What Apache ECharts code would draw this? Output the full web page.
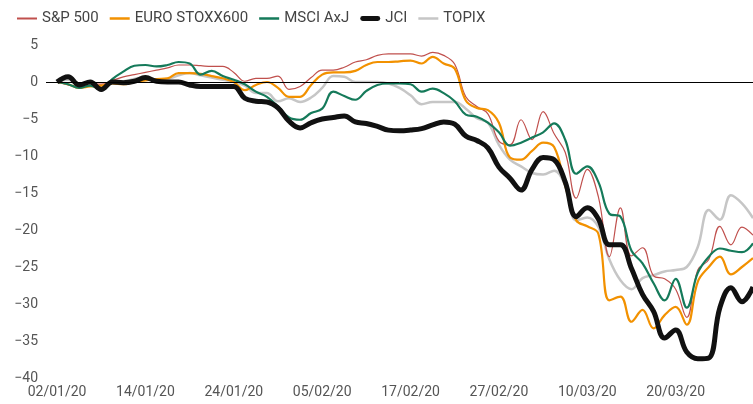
<!DOCTYPE html>
<html>
<head>
<meta charset="utf-8">
<script src="https://cdn.jsdelivr.net/npm/echarts@6/dist/echarts.min.js"></script>
<style>
  html, body { margin: 0; padding: 0; background: #fff; }
  #main { width: 753px; height: 404px; }
</style>
</head>
<body>
<div id="main"></div>
<script>
// trading days, 02/01/20 .. 31/03/20
var dates = [
  '02/01/20','03/01/20','06/01/20','07/01/20','08/01/20','09/01/20','10/01/20','13/01/20',
  '14/01/20','15/01/20','16/01/20','17/01/20','20/01/20','21/01/20','22/01/20','23/01/20',
  '24/01/20','27/01/20','28/01/20','29/01/20','30/01/20','31/01/20','03/02/20','04/02/20',
  '05/02/20','06/02/20','07/02/20','10/02/20','11/02/20','12/02/20','13/02/20','14/02/20',
  '17/02/20','18/02/20','19/02/20','20/02/20','21/02/20','24/02/20','25/02/20','26/02/20',
  '27/02/20','28/02/20','02/03/20','03/03/20','04/03/20','05/03/20','06/03/20','09/03/20',
  '10/03/20','11/03/20','12/03/20','13/03/20','16/03/20','17/03/20','18/03/20','19/03/20',
  '20/03/20','23/03/20','24/03/20','25/03/20','26/03/20','27/03/20','30/03/20','31/03/20'
]

var spx = [0,-0.4,-0.6,-0.2,-0.3,0.2,0.7,1.0,1.3,1.6,1.9,2.3,2.3,2.2,2.1,2.1,
  1.3,0.1,0.5,0.5,0.8,-1.0,-0.6,0.6,1.6,1.6,2.0,2.7,3.0,3.6,3.8,3.8,
  3.8,3.5,4.0,3.6,2.4,-2.0,-3.3,-4.3,-8.0,-8.5,-5.1,-7.8,-4.0,-7.0,-9.5,-15.7,
  -11.8,-15.5,-23.6,-17.0,-23.5,-22.4,-26.2,-26.6,-28.0,-31.8,-25.4,-24.0,-19.5,-22.0,-19.6,-20.7]

var stoxx = [0,-0.3,-0.8,-0.6,-0.5,-0.2,-0.3,0,0.2,0.4,0.5,1.2,1.2,1.1,0.8,0.5,
  0.0,-1.1,-0.4,0.0,-0.8,-2.0,-2.0,-0.4,1.0,1.3,1.3,1.5,2.3,2.7,2.7,2.8,
  2.9,2.5,3.4,2.5,1.8,-2.5,-3.5,-3.8,-5.5,-10.2,-10.5,-9.3,-8.2,-8.8,-14.0,-18.7,
  -19.5,-20.5,-29.5,-29.0,-32.4,-30.8,-33.3,-31.5,-30.4,-32.8,-27.0,-25.0,-23.6,-26.0,-25.0,-23.8]

var msci = [0,-0.3,-0.8,-0.5,-1.0,0.4,1.4,2.2,2.3,2.1,2.3,2.7,2.5,1.0,1.5,0.8,
  0.3,-0.3,-1.3,-2.0,-3.3,-4.8,-5.1,-4.2,-3.6,-1.3,-1.9,-2.4,-1.2,-0.4,-0.2,-0.2,
  -0.3,-1.3,-0.9,-1.5,-2.6,-4.4,-4.7,-5.5,-6.8,-8.6,-8.2,-7.5,-6.8,-5.6,-7.8,-12.4,
  -11.4,-13.5,-17.8,-18.2,-22.8,-24.5,-27.2,-29.5,-26.6,-30.5,-25.8,-23.6,-22.5,-22.8,-23.0,-21.8]

var jci = [0,0.7,-0.4,0,-1.0,0,-0.1,0.1,0.6,0.1,0,0,-0.4,-0.6,-0.6,-0.6,
  -0.6,-2.2,-2.6,-2.7,-3.5,-5.3,-6.2,-5.5,-5.0,-4.8,-4.6,-5.4,-5.6,-6.0,-6.5,-6.6,
  -6.5,-6.3,-5.8,-5.4,-5.7,-7.3,-7.9,-8.9,-11.5,-13.0,-14.6,-11.8,-10.2,-10.5,-13.5,-18.2,
  -17.0,-18.5,-22.0,-22.0,-25.2,-28.7,-31.0,-34.6,-33.5,-36.5,-37.4,-37.3,-30.5,-27.8,-29.7,-27.7]

var topix = [0,0.3,-0.3,0,-0.8,-0.1,0.1,0.4,0.7,0.3,0.4,0.9,1.2,0.9,0.6,0.3,
  0.0,-0.5,-1.5,-1.5,-2.6,-2.2,-2.7,-2.1,-0.8,0.8,0.7,0.0,0.0,0.0,-0.2,-0.8,
  -1.8,-3.0,-2.7,-2.7,-2.7,-3.6,-4.9,-5.5,-8.5,-10.5,-11.4,-12.3,-12.5,-12.0,-14.0,-18.7,
  -18.3,-19.6,-24.0,-26.8,-28.0,-26.5,-26.1,-25.6,-25.4,-25.0,-22.3,-17.3,-18.6,-15.3,-16.4,-18.4]

var yTicks = { min: -40, max: 5, step: 5 }

// blank first slot so the zero line starts a little left of the data
var cats = [''].concat(dates)
function pad(arr) { return [null].concat(arr) }

var chart = echarts.init(document.getElementById('main'))

function mkLine(name, data, color, width, z) {
  return {
    name: name,
    type: 'line',
    data: pad(data),
    symbol: 'none',
    smooth: 0.4,
    z: z,
    lineStyle: { color: color, width: width },
    itemStyle: { color: color }
  }
}

// flat bar icons for the legend (thickness like the line)
function bar(h) { return 'path://M0,0H20V' + h + 'H0Z' }

var series = [
  mkLine('S&P 500', spx, '#c0504d', 1.2, 3),
  mkLine('EURO STOXX600', stoxx, '#f29100', 2.2, 3),
  mkLine('MSCI AxJ', msci, '#157a5a', 2.2, 3),
  mkLine('JCI', jci, '#111111', 5, 4),
  mkLine('TOPIX', topix, '#c6c6c6', 2.5, 2)
]
// zero baseline
series[0].markLine = {
  silent: true,
  symbol: 'none',
  label: { show: false },
  lineStyle: { color: '#000', width: 1, type: 'solid' },
  data: [{ yAxis: 0 }]
}

chart.setOption({
  animation: false,
  textStyle: { fontFamily: 'Roboto' },
  legend: {
    left: 12,
    top: 6,
    itemWidth: 20,
    itemHeight: 10,
    itemGap: 11,
    textStyle: { fontSize: 15, color: '#444' },
    data: [
      { name: 'S&P 500', icon: bar(2) },
      { name: 'EURO STOXX600', icon: bar(2.5) },
      { name: 'MSCI AxJ', icon: bar(2.5) },
      { name: 'JCI', icon: 'path://M2,0H18A2.5,2.5,0,0,1,18,5H2A2.5,2.5,0,0,1,2,0Z' },
      { name: 'TOPIX', icon: bar(2.5) }
    ]
  },
  grid: { left: 46, right: 0, top: 45, bottom: 26, containLabel: false },
  xAxis: {
    type: 'category',
    data: cats,
    boundaryGap: false,
    axisLine: { show: false },
    axisTick: { show: false },
    axisLabel: {
      fontSize: 14,
      color: '#555',
      margin: 7,
      interval: function (idx) { return idx > 0 && (idx - 1) % 8 === 0 }
    }
  },
  yAxis: {
    type: 'value',
    min: yTicks.min,
    max: yTicks.max,
    interval: yTicks.step,
    splitLine: { show: false },
    axisLine: { show: false },
    axisTick: { show: false },
    axisLabel: {
      fontSize: 14,
      color: '#555',
      margin: 8,
      formatter: function (v) { return String(v).replace('-', '\u2212') }
    }
  },
  series: series
})
</script>
</body>
</html>
